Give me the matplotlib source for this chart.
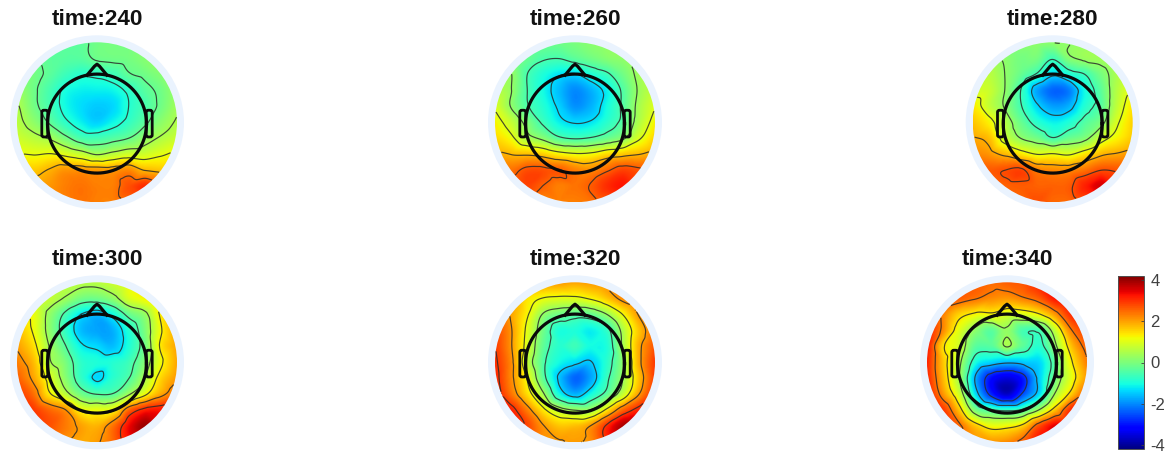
import numpy as np
import matplotlib
matplotlib.use("Agg")
import matplotlib.pyplot as plt
import matplotlib.tri as mtri
from matplotlib.patches import Circle, FancyBboxPatch
from matplotlib.cm import ScalarMappable
from matplotlib.colors import Normalize

plt.rcParams['font.family'] = ['Liberation Sans', 'DejaVu Sans']

W, H = 1173, 457
times = [240, 260, 280, 300, 320, 340]

# potential sampled on an 11x11 grid over the disc (top row first, left to right)
v240 = [
 [-.2,-.2,-.3,-.3,-.3,-.1,-.05,-.05,0,.1,.2],
 [.1,-.15,-.3,-.35,-.35,-.15,-.1,-.05,.1,.3,.4],
 [.1,-.05,-.3,-.6,-.8,-.75,-.6,-.25,-.1,.1,.3],
 [.35,-.1,-.5,-.95,-1.1,-1.1,-1.05,-.75,-.35,-.1,.3],
 [.5,-.05,-.5,-1.0,-1.25,-1.4,-1.3,-.85,-.5,-.1,.35],
 [.6,.2,-.25,-.75,-1.1,-1.35,-1.05,-.7,-.3,.15,.5],
 [.8,.6,.4,-.05,-.5,-.55,-.4,-.2,.2,.5,.75],
 [1.1,1.05,1.1,.95,.7,.4,.6,.8,.8,1.0,1.2],
 [1.6,1.55,1.75,2.0,2.0,1.95,1.95,2.1,1.7,1.6,1.6],
 [2,2,2.0,2.2,2.3,2.2,2.2,2.6,2.9,2.6,2.4],
 [2.2,2.2,2.2,2.2,2.3,2.2,2.2,2.4,2.6,2.6,2.4]]
v260 = [
 [-.1,-.1,-.1,-.1,-.1,0,.15,.25,.35,.4,.4],
 [.2,.1,-.2,-.45,-.5,-.3,-.1,.1,.2,.4,.5],
 [.35,.25,-.5,-.9,-1.2,-1.3,-.9,-.6,-.1,.35,.6],
 [.6,.25,-.5,-1.0,-1.5,-1.9,-1.6,-1.1,-.4,.3,.7],
 [.9,.2,-.45,-.85,-1.35,-1.85,-1.6,-1.0,-.4,.4,.95],
 [1.2,.7,.05,-.6,-1.1,-1.3,-1.2,-.8,-.35,.5,1.2],
 [1.45,1.1,.45,.1,-.4,-.55,-.45,-.2,.15,.9,1.5],
 [1.8,1.7,1.65,1.5,1.2,1.05,1.1,1.4,1.55,1.7,1.9],
 [2.2,2.3,2.6,2.6,2.5,2.2,2.1,2.4,2.7,2.55,2.3],
 [2.5,2.5,2.7,2.45,2.2,2.3,2.5,2.9,3.1,2.7,2.5],
 [2.3,2.3,2.2,2.1,2.2,2.2,2.3,2.5,2.7,2.6,2.4]]
v280 = [
 [0,0,.05,.15,.2,.2,.2,.25,.3,.4,.5],
 [.5,.4,.15,-.05,-.05,-.55,.1,.3,.35,.5,.7],
 [.6,.6,.2,-.2,-.65,-1.3,-.9,-.6,-.05,.45,.8],
 [.8,.75,.2,-.6,-1.7,-2.2,-2.0,-1.0,-.3,.55,1.1],
 [1.3,.7,.15,-.55,-1.3,-1.75,-1.6,-.85,-.35,.65,1.35],
 [1.6,1.2,.55,-.2,-.8,-1.1,-.9,-.4,0,.9,1.5],
 [1.85,1.65,.75,.2,-.1,-.55,-.2,.05,.75,1.2,1.6],
 [2.1,2.0,1.7,1.3,1.0,1.05,.95,1.3,1.7,1.85,2.0],
 [2.3,2.5,2.6,2.7,2.2,2.1,2.1,2.3,2.6,2.55,2.4],
 [2.4,2.4,2.45,2.5,2.45,2.45,2.5,3.0,3.4,2.9,2.5],
 [2.4,2.4,2.4,2.4,2.6,2.4,2.4,2.6,2.8,2.6,2.5]]
v300 = [
 [.7,.7,.7,.7,.6,.6,.8,1.1,1.3,1.5,1.6],
 [1.1,.9,.7,.35,-.05,-.1,.2,.9,1.2,1.6,1.8],
 [1.4,1.1,.25,-.5,-1.2,-1.5,-1.0,-.2,.25,1.3,1.9],
 [1.7,1.15,.2,-.7,-1.5,-1.7,-1.6,-.85,0,1.15,1.9],
 [1.95,1.4,.4,-.35,-1.1,-1.3,-1.5,-.9,-.1,1.3,1.9],
 [2.2,1.7,.5,0,-.75,-.9,-.85,-.6,.1,1.1,1.85],
 [2.5,1.9,1.0,.15,-.7,-1.3,-.8,-.4,.45,1.45,2.0],
 [2.8,2.35,1.3,.65,-.1,-.4,-.35,.35,1.1,1.85,2.35],
 [2.9,2.8,2.4,2.05,1.15,1.05,1.15,2.4,3.0,3.1,2.9],
 [2.7,2.7,2.6,2.25,1.9,1.75,2.3,3.2,3.8,3.3,3.0],
 [2.4,2.4,2.2,2.0,1.85,1.95,2.4,3.1,3.5,3.2,2.9]]
v320 = [
 [2.0,2.0,2.0,2.0,2.0,1.9,2.0,2.1,2.2,2.3,2.5],
 [2.4,2.0,1.35,1.1,1.0,1.0,1.2,1.6,2.1,2.4,2.6],
 [2.6,1.9,1.2,.25,-.1,-.3,-.2,.3,1.15,2.0,2.6],
 [2.7,2.0,1.0,-.1,-.9,-.9,-1.1,-.7,.5,1.6,2.4],
 [2.8,2.0,.9,-.25,-.8,-.6,-1.0,-.9,.4,1.8,2.6],
 [2.9,2.1,.7,-.4,-1.0,-1.25,-1.4,-.8,.2,1.8,2.8],
 [3.0,2.1,1.1,-.3,-1.45,-2.2,-1.7,-.65,.3,1.6,2.8],
 [3.1,2.3,1.4,.4,-1.0,-1.6,-1.0,-.3,.7,1.95,3.0],
 [3.2,3.0,2.2,1.3,.6,.3,.35,1.3,2.4,3.0,3.2],
 [3.2,3.2,2.7,2.0,1.6,1.65,2.0,2.9,3.7,3.8,3.4],
 [2.8,2.6,2.3,2.0,2.0,1.95,2.1,2.9,3.5,3.5,3.2]]
v340 = [
 [2.5,2.5,2.5,2.5,2.4,2.5,2.6,3.0,3.2,3.3,3.3],
 [3.0,2.8,2.5,2.3,2.1,2.0,2.2,2.5,3.1,3.3,3.3],
 [3.0,2.2,1.5,1.2,1.2,.9,.95,1.25,2.0,2.9,3.1],
 [3.1,2.1,1.0,.2,-.3,.25,-.5,-.5,.7,2.2,2.8],
 [3.1,1.4,.8,-.3,-.35,.38,-.3,-.8,.2,1.6,2.5],
 [3.0,1.6,.5,-.9,-1.3,-1.5,-1.4,-1.3,-.3,1.2,2.2],
 [3.0,1.7,.4,-1.6,-2.9,-3.3,-2.8,-1.4,-.1,1.0,2.0],
 [3.1,2.0,.8,-1.2,-2.7,-3.5,-2.4,-1.3,.4,1.5,2.6],
 [3.1,2.8,1.6,0,-.5,-.7,-.45,.4,1.6,2.9,3.1],
 [3.0,2.9,2.4,1.6,1.1,1.15,1.5,2.6,3.3,3.2,3.0],
 [2.6,2.6,2.4,2.0,2.0,2.1,2.5,3.2,3.2,3.0,3.0]]
values = [v240, v260, v280, v300, v320, v340]

# six contour levels per panel
contour_levels = [
 [-.86,-.21,.43,1.07,1.71,2.36],
 [-1.26,-.51,.23,.97,1.71,2.46],
 [-1.4,-.6,.2,1.0,1.8,2.6],
 [-1.2,-.4,.4,1.2,2.0,2.8],
 [-1.37,-.54,.29,1.12,1.95,2.78],
 [-2.54,-1.58,-.62,.34,1.3,2.26]]

# panel centres in pixels
cx = [97, 575, 1052.7, 97, 575, 1007]
cy = [122.3, 122.3, 122.3, 362.3, 362.3, 362.3]
R = 80.0
half = 112.0
vmax = 4.0

cb_ticks = [-4, -2, 0, 2, 4]

fig = plt.figure(figsize=(W/100, H/100), dpi=100)
norm = Normalize(-vmax, vmax)
cmap = plt.get_cmap('jet')

gx = np.linspace(-1, 1, 11)
gy = np.linspace(1, -1, 11)
GX, GY = np.meshgrid(gx, gy)
fx = np.linspace(-1, 1, 321)
FX, FY = np.meshgrid(fx, fx)
head_r = 49.5 / R
head_y = -1.3 / R
th = np.linspace(0, 2*np.pi, 400)
INK = '#0a0a0a'

for i, (t, v) in enumerate(zip(times, values)):
    ax = fig.add_axes([(cx[i]-half)/W, 1-(cy[i]+half)/H, 2*half/W, 2*half/H])
    ax.set_xlim(-half/R, half/R)
    ax.set_ylim(-half/R, half/R)
    ax.axis('off')
    ax.add_patch(Circle((0, 0), 87.0/R, fc='#eaf3fe', ec='none', zorder=0))
    tri = mtri.Triangulation(GX.ravel(), GY.ravel())
    interp = mtri.CubicTriInterpolator(tri, np.array(v, float).ravel(), kind='geom')
    Z = np.ma.filled(interp(FX, FY), np.nan)
    im = ax.imshow(Z, extent=(-1, 1, -1, 1), origin='lower', cmap=cmap, norm=norm,
                   interpolation='bilinear', zorder=1)
    disc = Circle((0, 0), 1.0, transform=ax.transData, fc='none', ec='none')
    ax.add_patch(disc)
    im.set_clip_path(disc)
    cs = ax.contour(FX, FY, np.ma.masked_where(FX**2+FY**2 > 0.995, Z),
                    levels=contour_levels[i], colors='#2b2b2b', linewidths=0.85,
                    linestyles='solid', alpha=.85, zorder=2)
    # head outline, nose and ears
    ax.plot(head_r*np.cos(th), head_y+head_r*np.sin(th), color=INK, lw=2.3, zorder=3)
    hr = head_r
    ax.plot([-.2*hr, -.05*hr, 0, .05*hr, .2*hr],
            [head_y+.98*hr, head_y+1.16*hr, head_y+1.2*hr, head_y+1.16*hr, head_y+.98*hr],
            color=INK, lw=2.3, zorder=3, solid_joinstyle='round')
    for s in (-1, 1):
        x0 = -.69 if s < 0 else .615
        ax.add_patch(FancyBboxPatch((x0, head_y-.167), .075, .334,
                     boxstyle='round,pad=0,rounding_size=.025', fc='none',
                     ec=INK, lw=2.0, zorder=3))
    ax.text(0, 102.6/R, f'time:{t}', ha='center', va='center', fontsize=16.2,
            fontweight='bold', color='#111111', clip_on=False)

# colourbar
cax = fig.add_axes([1118/W, 1-449/H, 26/W, 173/H])
cb_norm = Normalize(-4.17, 4.17)
cb = fig.colorbar(ScalarMappable(norm=cb_norm, cmap=cmap), cax=cax, ticks=cb_ticks)
cb.ax.set_yticklabels([str(k) for k in cb_ticks])
cb.ax.tick_params(length=2.5, width=.6, direction='in', colors='#404040', labelsize=12, pad=4.5)
cb.outline.set_edgecolor('#505050')
cb.outline.set_linewidth(.7)

fig.savefig('out.png', dpi=100)
